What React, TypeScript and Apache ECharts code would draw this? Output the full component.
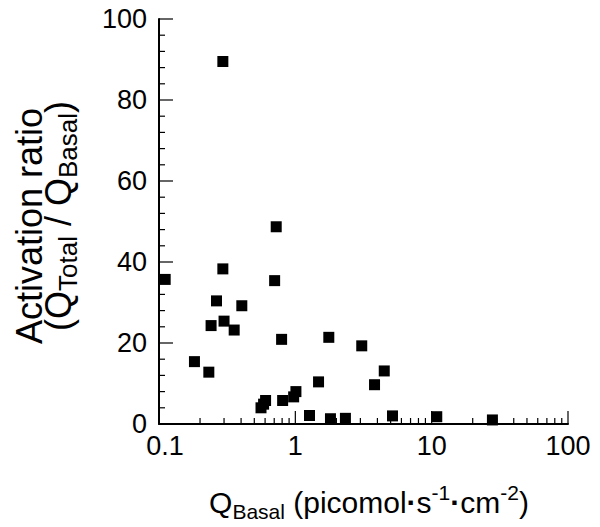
import React, { useEffect, useRef } from 'react';
import * as echarts from 'echarts';

// Q_Basal (picomol·s^-1·cm^-2)
const basal = [
  0.294, 0.111, 0.294, 0.705, 0.724, 0.264, 0.405, 0.241, 0.3, 0.356,
  0.793, 1.76, 0.182, 0.232, 1.48, 1.01, 0.972, 0.807, 0.605, 0.585,
  0.56, 1.27, 1.81, 2.33, 3.07, 4.49, 3.81, 5.16, 10.9, 27.9,
];
// Activation ratio (Q_Total / Q_Basal)
const ratio = [
  89.5, 35.7, 38.3, 35.4, 48.7, 30.4, 29.2, 24.3, 25.4, 23.2,
  20.9, 21.4, 15.4, 12.8, 10.4, 8.0, 6.7, 5.8, 5.8, 4.9,
  4.0, 2.1, 1.3, 1.4, 19.3, 13.1, 9.7, 2.0, 1.8, 1.0,
];

const xMin = 0.1;
const xMax = 100;
const xMajorTicks = [0.1, 1, 10, 100];
const xMinorTicks = [
  0.2, 0.3, 0.4, 0.5, 0.6, 0.7, 0.8, 0.9,
  2, 3, 4, 5, 6, 7, 8, 9,
  20, 30, 40, 50, 60, 70, 80, 90,
];
const yMin = 0;
const yMax = 100;
const yStep = 20;
const yMajorTicks = [0, 20, 40, 60, 80, 100];
const yMinorTicks = [4, 8, 12, 16, 24, 28, 32, 36, 44, 48, 52, 56, 64, 68, 72, 76, 84, 88, 92, 96];

const FONT = '"Liberation Sans", Arial, Helvetica, sans-serif';

function tickSeries(values: number[], onYAxis: boolean, len: number) {
  return {
    type: 'custom',
    silent: true,
    clip: false,
    data: values.map((v) => (onYAxis ? [xMin, v] : [v, yMin])),
    renderItem: (params: any, api: any) => {
      const p = api.coord([api.value(0), api.value(1)]);
      const shape = onYAxis
        ? { x1: p[0], y1: p[1], x2: p[0] + len, y2: p[1] }
        : { x1: p[0], y1: p[1], x2: p[0], y2: p[1] - len };
      return { type: 'line', shape, style: { stroke: '#000', lineWidth: 1.2 } };
    },
  };
}

export default function App() {
  const ref = useRef<HTMLDivElement>(null);
  useEffect(() => {
    const chart = echarts.init(ref.current as HTMLDivElement, null, { renderer: 'svg' });
    const black = '#000';
    chart.setOption({
      animation: false,
      backgroundColor: '#fff',
      grid: { left: 159, right: 32, top: 19, bottom: 103, containLabel: false },
      xAxis: {
        type: 'log',
        logBase: 10,
        min: xMin,
        max: xMax,
        position: 'bottom',
        axisLine: { show: true, lineStyle: { color: black, width: 2 } },
        axisTick: { show: false },
        minorTick: { show: false },
        splitLine: { show: false },
        axisLabel: {
          color: black,
          fontSize: 27,
          fontFamily: FONT,
          margin: 8,
          formatter: (v: number) => (v === xMin ? '{f|' + String(v) + '}' : String(v)),
          rich: {
            f: { fontSize: 27, fontFamily: FONT, color: black, padding: [0, 0, 0, 12] },
          },
        },
      },
      yAxis: {
        type: 'value',
        min: yMin,
        max: yMax,
        interval: yStep,
        axisLine: { show: true, lineStyle: { color: black, width: 2 } },
        axisTick: { show: false },
        minorTick: { show: false },
        splitLine: { show: false },
        minorSplitLine: { show: false },
        axisLabel: { color: black, fontSize: 27, fontFamily: FONT, margin: 12 },
      },
      series: [
        tickSeries(xMajorTicks, false, 13),
        tickSeries(xMinorTicks, false, 6),
        tickSeries(yMajorTicks, true, 14),
        tickSeries(yMinorTicks, true, 6),
        {
          type: 'scatter',
          symbol: 'rect',
          symbolSize: 11,
          itemStyle: { color: black, opacity: 1 },
          data: basal.map((b, i) => [b, ratio[i]]),
        },
      ],
      graphic: [
        {
          type: 'text',
          x: 29,
          y: 226,
          rotation: Math.PI / 2,
          style: {
            text: 'Activation ratio',
            fill: black,
            font: `36px ${FONT}`,
            align: 'center',
            verticalAlign: 'middle',
          },
        },
        {
          type: 'text',
          x: 58,
          y: 216,
          rotation: Math.PI / 2,
          style: {
            text: '{m|(Q}{s|Total}{m| / Q}{s|Basal}{m|)}',
            fill: black,
            align: 'center',
            verticalAlign: 'middle',
            rich: {
              m: { fontSize: 36, fontFamily: FONT, lineHeight: 46, fill: black },
              s: { fontSize: 26, fontFamily: FONT, lineHeight: 26, verticalAlign: 'bottom', fill: black },
            },
          },
        },
        {
          type: 'text',
          x: 369,
          y: 502,
          style: {
            text: '{m|Q}{s|Basal}{m| (picomol}{d|·}{m|s}{p|-1}{d|·}{m|cm}{p|-2}{m|)}',
            fill: black,
            align: 'center',
            verticalAlign: 'middle',
            rich: {
              m: { fontSize: 30, fontFamily: FONT, lineHeight: 40, fill: black },
              d: { fontSize: 30, fontFamily: FONT, fontWeight: 'bold', lineHeight: 40, fill: black },
              s: { fontSize: 21, fontFamily: FONT, lineHeight: 21, verticalAlign: 'bottom', fill: black },
              p: { fontSize: 21, fontFamily: FONT, lineHeight: 21, verticalAlign: 'top', fill: black },
            },
          },
        },
      ],
    });
    return () => chart.dispose();
  }, []);
  return (
    <div
      ref={ref}
      style={{ position: 'fixed', left: 0, top: 0, width: 600, height: 527, background: '#fff' }}
    />
  );
}
